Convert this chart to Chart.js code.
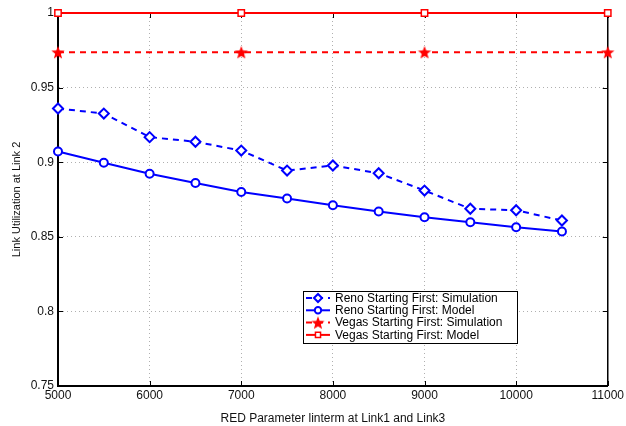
<!DOCTYPE html>
<html>
<head>
<meta charset="utf-8">
<script src="https://cdn.jsdelivr.net/npm/chart.js@4/dist/chart.umd.min.js"></script>
<style>
html,body{margin:0;padding:0;background:#fff;}
#wrap{width:626px;height:426px;position:relative;}
</style>
</head>
<body>
<div id="wrap"><canvas id="c" width="626" height="426"></canvas></div>
<script>
// ---- data ----
const renoX = [5000,5500,6000,6500,7000,7500,8000,8500,9000,9500,10000,10500];
const renoSim = [0.9360,0.9326,0.9168,0.9137,0.9078,0.8944,0.8978,0.8926,0.8810,0.8688,0.8678,0.8609];
const renoModel = [0.9072,0.8996,0.8922,0.8860,0.8800,0.8757,0.8712,0.8670,0.8631,0.8598,0.8564,0.8536];
const vegasX = [5000,7000,9000,11000];
const vegasSim = [0.9737,0.9737,0.9737,0.9737];
const vegasModel = [1.0,1.0,1.0,1.0];
const seriesNames = ['Reno Starting First: Simulation','Reno Starting First: Model','Vegas Starting First: Simulation','Vegas Starting First: Model'];
const xTicks = [5000,6000,7000,8000,9000,10000,11000];
const yTicks = [0.75,0.8,0.85,0.9,0.95,1];
const xTitle = 'RED Parameter linterm at Link1 and Link3';
const yTitle = 'Link Utilization at Link 2';

const FONT = 'Liberation Sans, Arial, Helvetica, sans-serif';

function starCanvas(r, color){
  const s = Math.ceil(r*2+2);
  const c = document.createElement('canvas');
  c.width = s; c.height = s;
  const g = c.getContext('2d');
  g.translate(s/2, s/2 + r*0.1);
  g.beginPath();
  for(let i=0;i<10;i++){
    const rad = i%2===0 ? r : r*0.42;
    const a = -Math.PI/2 + i*Math.PI/5;
    const px = rad*Math.cos(a), py = rad*Math.sin(a);
    if(i===0) g.moveTo(px,py); else g.lineTo(px,py);
  }
  g.closePath();
  g.fillStyle = color; g.fill();
  return c;
}
const starImg = starCanvas(7, '#ff0000');

function pts(xs, ys){ return xs.map((x,i)=>({x:x,y:ys[i]})); }

const frame = {
  id:'frame',
  beforeDatasetsDraw(chart){
    const {ctx, chartArea:a, scales} = chart;
    ctx.save();
    ctx.strokeStyle = '#000';
    ctx.lineWidth = 1.5;
    ctx.beginPath();
    ctx.moveTo(a.left, a.top); ctx.lineTo(a.right, a.top); ctx.lineTo(a.right, a.bottom);
    ctx.stroke();
    ctx.lineWidth = 1;
    const L = 5;
    ctx.beginPath();
    xTicks.forEach(v=>{
      const px = Math.round(scales.x.getPixelForValue(v))+0.5;
      ctx.moveTo(px, a.bottom); ctx.lineTo(px, a.bottom-L);
      ctx.moveTo(px, a.top); ctx.lineTo(px, a.top+L);
    });
    yTicks.forEach(v=>{
      const py = Math.round(scales.y.getPixelForValue(v))+0.5;
      ctx.moveTo(a.left, py); ctx.lineTo(a.left+L, py);
      ctx.moveTo(a.right, py); ctx.lineTo(a.right-L, py);
    });
    ctx.stroke();
    ctx.restore();
  }
};

const legendBox = {
  id:'legendBox',
  afterDraw(chart){
    const {ctx} = chart;
    const x0 = 303, y0 = 291, w = 214, h = 52;
    ctx.save();
    ctx.fillStyle = '#fff';
    ctx.fillRect(x0, y0, w, h);
    ctx.strokeStyle = '#000';
    ctx.lineWidth = 1;
    ctx.strokeRect(x0+0.5, y0+0.5, w, h);
    ctx.font = '12px ' + FONT;
    ctx.textBaseline = 'middle';
    chart.data.datasets.forEach((ds, i)=>{
      const y = y0 + 7 + i*12.3;
      ctx.save();
      ctx.strokeStyle = ds.borderColor;
      ctx.lineWidth = 2;
      ctx.setLineDash(ds.borderDash || []);
      ctx.beginPath(); ctx.moveTo(x0+3, y); ctx.lineTo(x0+27, y); ctx.stroke();
      ctx.restore();
      ctx.save();
      ctx.strokeStyle = ds.pointBorderColor;
      ctx.fillStyle = ds.pointBackgroundColor;
      ctx.lineWidth = ds.pointBorderWidth;
      Chart.helpers.drawPoint(ctx, {pointStyle: ds.pointStyle, radius: ds.pointRadius*0.8, borderWidth: ds.pointBorderWidth, rotation:0}, x0+15, y);
      ctx.restore();
      ctx.fillStyle = '#000';
      ctx.fillText(ds.label, x0+32, y+0.5);
    });
    ctx.restore();
  }
};

new Chart(document.getElementById('c'), {
  type:'scatter',
  data:{
    datasets:[
      {label:seriesNames[0], data:pts(renoX, renoSim), showLine:true, borderColor:'#0000ff', borderWidth:2, borderDash:[6,5],
       pointStyle:'rectRot', pointRadius:5, pointBorderColor:'#0000ff', pointBackgroundColor:'#ffffff', pointBorderWidth:2, clip:12},
      {label:seriesNames[1], data:pts(renoX, renoModel), showLine:true, borderColor:'#0000ff', borderWidth:2,
       pointStyle:'circle', pointRadius:4, pointBorderColor:'#0000ff', pointBackgroundColor:'#ffffff', pointBorderWidth:2, clip:12},
      {label:seriesNames[2], data:pts(vegasX, vegasSim), showLine:true, borderColor:'#ff0000', borderWidth:2, borderDash:[6,5],
       pointStyle:starImg, pointRadius:6, pointBorderColor:'#ff0000', pointBackgroundColor:'#ff0000', pointBorderWidth:1, clip:12},
      {label:seriesNames[3], data:pts(vegasX, vegasModel), showLine:true, borderColor:'#ff0000', borderWidth:2,
       pointStyle:'rect', pointRadius:4.5, pointBorderColor:'#ff0000', pointBackgroundColor:'#ffffff', pointBorderWidth:1.5, clip:12}
    ]
  },
  options:{
    responsive:false,
    animation:false,
    devicePixelRatio:1,
    layout:{padding:{left:10, top:13, right:15, bottom:0}},
    plugins:{legend:{display:false}, tooltip:{enabled:false}},
    scales:{
      x:{
        type:'linear', min:5000, max:11000,
        afterBuildTicks(s){ s.ticks = xTicks.map(v=>({value:v})); },
        afterFit(s){ s.height = 40; },
        ticks:{color:'#111', font:{family:FONT, size:12}, padding:2, maxRotation:0, callback:v=>String(v)},
        grid:{color:'#b0b0b0', lineWidth:1, drawTicks:false},
        border:{display:true, color:'#000', width:2, dash:[1,3]},
        title:{display:true, text:xTitle, color:'#111', font:{family:FONT, size:12}, padding:{top:5, bottom:0}}
      },
      y:{
        type:'linear', min:0.75, max:1,
        afterBuildTicks(s){ s.ticks = yTicks.map(v=>({value:v})); },
        afterFit(s){ s.width = 48; },
        ticks:{color:'#111', font:{family:FONT, size:12}, padding:4, callback:v=>String(Math.round(v*100)/100)},
        grid:{color:'#b0b0b0', lineWidth:1, drawTicks:false},
        border:{display:true, color:'#000', width:2, dash:[1,3]},
        title:{display:true, text:yTitle, color:'#111', font:{family:FONT, size:11}, padding:{top:0, bottom:4}}
      }
    }
  },
  plugins:[frame, legendBox]
});
</script>
</body>
</html>
